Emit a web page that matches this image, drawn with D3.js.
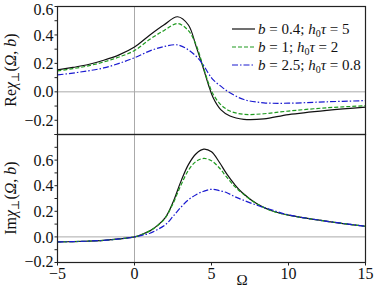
<!DOCTYPE html>
<html>
<head>
<meta charset="utf-8">
<script src="https://cdn.jsdelivr.net/npm/d3@7"></script>
<style>
  body { margin: 0; background: #fff; }
</style>
</head>
<body>
<div id="chart"></div>
<script>
// Omega grids and curves
const omegaRe = [-5, -4, -3, -2, -1, 0, 1, 1.9, 2.8, 3.5, 4, 4.4, 4.8, 5.1, 5.6, 6.2, 7.1, 8.4, 10, 12.5, 15];
const reB04 = [0.154, 0.172, 0.192, 0.222, 0.26, 0.315, 0.40, 0.47, 0.528, 0.47, 0.32, 0.19, 0.05, -0.04, -0.125, -0.17, -0.193, -0.19, -0.16, -0.13, -0.107];
const reB1 = [0.147, 0.163, 0.183, 0.21, 0.245, 0.29, 0.37, 0.43, 0.48, 0.43, 0.33, 0.2, 0.063, -0.015, -0.09, -0.135, -0.158, -0.154, -0.135, -0.112, -0.098];
const reB25 = [0.119, 0.132, 0.148, 0.168, 0.2, 0.24, 0.288, 0.318, 0.33, 0.295, 0.25, 0.2, 0.13, 0.086, 0.04, -0.007, -0.054, -0.077, -0.08, -0.07, -0.062];

const omegaIm = [-5, -4, -3, -2, -1, 0, 0.5, 1, 1.5, 2, 2.5, 3, 3.5, 4, 4.5, 5, 5.5, 6, 6.5, 7, 8, 9, 10, 12.5, 15];
const imB04 = [-0.039, -0.037, -0.033, -0.027, -0.016, 0, 0.02, 0.047, 0.09, 0.15, 0.27, 0.43, 0.565, 0.65, 0.686, 0.665, 0.585, 0.49, 0.41, 0.345, 0.255, 0.2, 0.17, 0.122, 0.083];
const imB1 = [-0.039, -0.037, -0.033, -0.027, -0.016, 0, 0.02, 0.047, 0.088, 0.148, 0.26, 0.4, 0.52, 0.59, 0.613, 0.595, 0.54, 0.465, 0.395, 0.34, 0.255, 0.2, 0.17, 0.122, 0.083];
const imB25 = [-0.039, -0.037, -0.033, -0.027, -0.016, 0, 0.013, 0.029, 0.058, 0.094, 0.16, 0.23, 0.29, 0.33, 0.357, 0.372, 0.362, 0.345, 0.315, 0.29, 0.245, 0.208, 0.172, 0.122, 0.083];

const legendLabels = [
  ["0.4", "5"],
  ["1", "2"],
  ["2.5", "0.8"]
];
const xTicks = [-5, 0, 5, 10, 15];
const yTicks = [-0.2, 0, 0.2, 0.4, 0.6];

const colors = ["#111", "#1f9a1f", "#1a1ad0"];
const dashes = [null, "4,2", "6,2,1.5,2"];
const serif = "'Liberation Serif', 'DejaVu Serif', 'Times New Roman', serif";

const width = 374, height = 288;
const left = 57.5, right = 365.5;

const svg = d3.select("#chart").append("svg")
  .attr("width", width)
  .attr("height", height)
  .attr("font-family", serif)
  .style("font-family", serif);

const x = d3.scaleLinear().domain([-5, 15]).range([left, right]);
const yRe = d3.scaleLinear().domain([-0.3, 0.6]).range([134.5, 6.5]);
const yIm = d3.scaleLinear().domain([-0.2, 0.8]).range([262.5, 134.5]);

const fmt = d => d < 0 ? "\u2212" + Math.abs(d).toFixed(1) : d.toFixed(1);

function panel(y, omega, series, showX) {
  const g = svg.append("g");
  // zero lines
  g.append("line").attr("x1", x(0)).attr("x2", x(0))
    .attr("y1", y.range()[0]).attr("y2", y.range()[1])
    .attr("stroke", "#aaa").attr("stroke-width", 1);
  g.append("line").attr("x1", left).attr("x2", right)
    .attr("y1", y(0)).attr("y2", y(0))
    .attr("stroke", "#aaa").attr("stroke-width", 1);

  // y axis with minor ticks
  const minor = d3.range(-0.3, 0.85, 0.1).map(v => +v.toFixed(1))
    .filter(v => v >= y.domain()[0] && v <= y.domain()[1]);
  g.selectAll(".mt").data(minor).join("line")
    .attr("x1", left - 3).attr("x2", left)
    .attr("y1", d => y(d)).attr("y2", d => y(d))
    .attr("stroke", "#222").attr("stroke-width", 1);
  g.selectAll(".yl").data(yTicks).join("text")
    .attr("x", left - 4)
    .attr("y", d => y(d) + (d === 0.6 && !showX ? 2.5 : 0) + (d === -0.2 && showX ? -1.5 : 0))
    .attr("dy", "0.35em")
    .attr("text-anchor", "end")
    .attr("font-size", "16px")
    .attr("fill", "#111")
    .text(fmt);

  if (showX) {
    g.selectAll(".xt").data(xTicks).join("line")
      .attr("x1", d => x(d)).attr("x2", d => x(d))
      .attr("y1", y.range()[0]).attr("y2", y.range()[0] + 3)
      .attr("stroke", "#222").attr("stroke-width", 1);
    g.selectAll(".xl").data(xTicks).join("text")
      .attr("x", d => x(d)).attr("y", y.range()[0] + 16)
      .attr("text-anchor", "middle")
      .attr("font-size", "16px")
      .attr("fill", "#111")
      .text(d => d < 0 ? "\u2212" + Math.abs(d) : d);
  }

  const line = d3.line()
    .x((d, i) => x(omega[i]))
    .y(d => y(d))
    .curve(d3.curveCatmullRom.alpha(0.5));

  series.forEach((s, i) => {
    g.append("path")
      .attr("d", line(s))
      .attr("fill", "none")
      .attr("stroke", colors[i])
      .attr("stroke-width", 1.2)
      .attr("stroke-dasharray", dashes[i]);
  });

  // frame
  g.append("rect")
    .attr("x", left).attr("y", y.range()[1])
    .attr("width", right - left).attr("height", y.range()[0] - y.range()[1])
    .attr("fill", "none").attr("stroke", "#222").attr("stroke-width", 1.2);
}

panel(yRe, omegaRe, [reB04, reB1, reB25], false);
panel(yIm, omegaIm, [imB04, imB1, imB25], true);

// legend
const lg = svg.append("g");
legendLabels.forEach((lab, i) => {
  const yy = 29 + i * 18;
  lg.append("line").attr("x1", 232).attr("x2", 255)
    .attr("y1", yy).attr("y2", yy)
    .attr("stroke", colors[i]).attr("stroke-width", 1.2)
    .attr("stroke-dasharray", dashes[i]);
  const t = lg.append("text").attr("x", 258).attr("y", yy).attr("dy", "0.33em")
    .attr("font-size", "15px").attr("fill", "#111");
  t.append("tspan").attr("font-style", "italic").text("b");
  t.append("tspan").text(" = " + lab[0] + "; ");
  t.append("tspan").attr("font-style", "italic").text("h");
  t.append("tspan").attr("font-size", "10px").attr("dy", "3").text("0");
  t.append("tspan").attr("font-style", "italic").attr("dy", "-3").text("\u03c4");
  t.append("tspan").text(" = " + lab[1]);
});

// axis titles
function yTitle(prefix, cy) {
  const t = svg.append("text")
    .attr("transform", `translate(16,${cy}) rotate(-90)`)
    .attr("text-anchor", "middle")
    .attr("font-size", "16px")
    .attr("fill", "#111");
  t.append("tspan").text(prefix);
  t.append("tspan").attr("font-style", "italic").text("\u03c7");
  t.append("tspan").attr("font-size", "11px").attr("dy", "3").text("\u22a5");
  t.append("tspan").attr("dy", "-3").text("(");
  t.append("tspan").attr("font-style", "italic").text("\u03a9");
  t.append("tspan").text(", ");
  t.append("tspan").attr("font-style", "italic").text("b");
  t.append("tspan").text(")");
}
yTitle("Re", 70);
yTitle("Im", 198);

svg.append("text")
  .attr("x", 242).attr("y", 285)
  .attr("text-anchor", "middle")
  .attr("font-size", "15px")
  .attr("fill", "#111")
  .text("\u03a9");
</script>
</body>
</html>
